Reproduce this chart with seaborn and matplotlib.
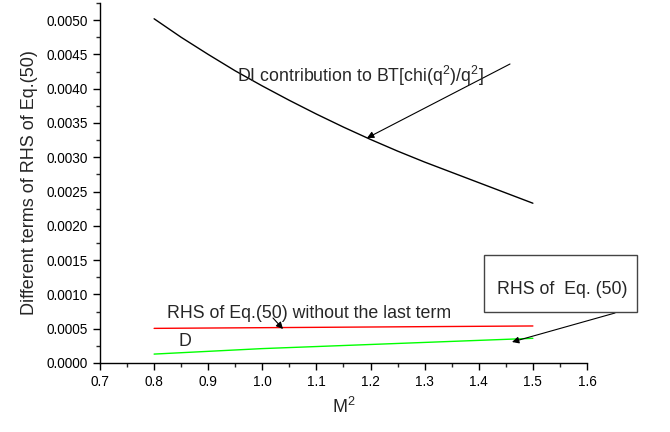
import matplotlib
matplotlib.use("Agg")
import matplotlib.pyplot as plt
import seaborn as sns
import pandas as pd
from matplotlib.patches import Rectangle
from matplotlib.ticker import MultipleLocator, FormatStrFormatter

# ---- data ----
m2_di = [0.8, 0.85, 0.9, 0.95, 1.0, 1.05, 1.1, 1.15, 1.2, 1.25, 1.3, 1.35, 1.4, 1.45, 1.5]
di_contribution = [0.00502, 0.00475, 0.00450, 0.00426, 0.00404, 0.00383, 0.00363, 0.00344,
                   0.00326, 0.00309, 0.00293, 0.00278, 0.00263, 0.00248, 0.00233]
m2 = [0.8, 0.9, 1.0, 1.1, 1.2, 1.3, 1.4, 1.5]
rhs_without_last = [0.000505, 0.00051, 0.000515, 0.00052, 0.000525, 0.00053, 0.000535, 0.00054]
d_term = [0.00013, 0.00017, 0.00021, 0.00024, 0.00027, 0.00030, 0.00033, 0.00036]

xlabel = "M$^2$"
ylabel = "Different terms of RHS of Eq.(50)"

sns.set_style("ticks")
plt.rcParams['font.family'] = ['Liberation Sans', 'DejaVu Sans']
plt.rcParams['mathtext.fontset'] = 'custom'
plt.rcParams['mathtext.rm'] = 'Liberation Sans'

W, H = 670, 432
fig = plt.figure(figsize=(W / 100, H / 100), dpi=100)
ax = fig.add_axes([100 / W, 1 - 363 / H, 487 / W, 360 / H])

df_di = pd.DataFrame({"m2": m2_di, "di": di_contribution})
df = pd.DataFrame({"m2": m2, "rhs": rhs_without_last, "d": d_term})
sns.lineplot(data=df_di, x="m2", y="di", color="black", lw=1.0, ax=ax)
sns.lineplot(data=df, x="m2", y="rhs", color="#ff0000", lw=1.0, ax=ax)
sns.lineplot(data=df, x="m2", y="d", color="#00ff00", lw=1.0, ax=ax)

ax.set_xlim(0.7, 1.6)
ax.set_ylim(0.0, 0.00525)
ax.xaxis.set_major_locator(MultipleLocator(0.1))
ax.xaxis.set_minor_locator(MultipleLocator(0.05))
ax.yaxis.set_major_locator(MultipleLocator(0.0005))
ax.yaxis.set_minor_locator(MultipleLocator(0.00025))
ax.xaxis.set_major_formatter(FormatStrFormatter("%.1f"))
ax.yaxis.set_major_formatter(FormatStrFormatter("%.4f"))
ax.tick_params(axis="both", which="major", direction="out", length=5, width=1, labelsize=9.8, colors="black")
ax.tick_params(axis="both", which="minor", direction="out", length=3, width=1)
for s in ["left", "bottom"]:
    ax.spines[s].set_linewidth(1.0)
    ax.spines[s].set_color("black")
sns.despine(ax=ax)

ax.set_xlabel(xlabel, fontsize=13, labelpad=6)
ax.set_ylabel(ylabel, fontsize=13, labelpad=6)


def fp(px, py):
    return (px / W, 1 - py / H)


arrow = dict(arrowstyle="-|>", color="black", lw=0.8, mutation_scale=10, shrinkA=0, shrinkB=0)

fig.text(*fp(237, 76), "DI contribution to BT[chi(q$^2$)/q$^2$]", fontsize=12.8, va="center", ha="left")
ax.annotate("", xy=fp(367, 138), xycoords="figure fraction",
            xytext=fp(510, 64), textcoords="figure fraction", arrowprops=arrow)

fig.text(*fp(167, 313), "RHS of Eq.(50) without the last term", fontsize=12.8, va="center", ha="left")
ax.annotate("", xy=fp(283, 329), xycoords="figure fraction",
            xytext=fp(273, 318), textcoords="figure fraction", arrowprops=arrow)

fig.text(*fp(178, 342), "D", fontsize=12.8, va="center", ha="left")

fig.patches.append(Rectangle(fp(484, 312), 153 / W, 57 / H, transform=fig.transFigure,
                             fill=False, edgecolor="#444444", lw=1.0))
fig.text(*fp(497, 290), "RHS of  Eq. (50)", fontsize=12.8, va="center", ha="left")
ax.annotate("", xy=fp(512, 342), xycoords="figure fraction",
            xytext=fp(615, 313), textcoords="figure fraction", arrowprops=arrow)

fig.savefig("out.png", dpi=100)
